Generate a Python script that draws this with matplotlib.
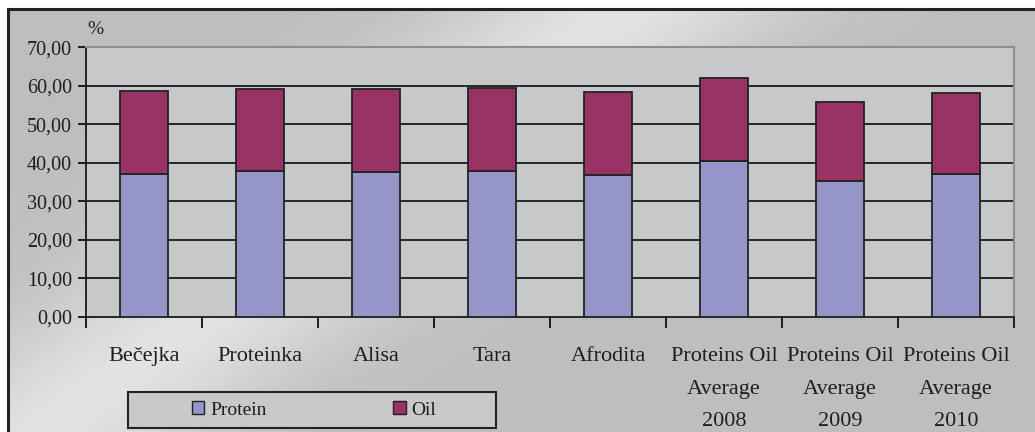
#! /usr/bin/env python
"""Protein and oil content of soybean cultivars, stacked bars."""
import numpy as np
import matplotlib
matplotlib.use("Agg")
import matplotlib.pyplot as plt
from matplotlib.patches import Rectangle, Patch

# values (%)
categories = ["Bečejka", "Proteinka", "Alisa", "Tara", "Afrodita",
              "Proteins Oil\nAverage\n2008", "Proteins Oil\nAverage\n2009",
              "Proteins Oil\nAverage\n2010"]
protein = [37.2, 37.9, 37.6, 37.9, 36.8, 40.4, 35.2, 37.2]
oil = [21.5, 21.3, 21.6, 21.6, 21.5, 21.5, 20.7, 21.0]

yticks = [0, 10, 20, 30, 40, 50, 60, 70]
ytick_labels = ["0,00", "10,00", "20,00", "30,00", "40,00", "50,00", "60,00", "70,00"]

protein_color = "#9595C9"
oil_color = "#993366"

plt.rcParams['font.family'] = ['Liberation Serif', 'DejaVu Serif']

W, H = 1035, 432
fig = plt.figure(figsize=(W / 100, H / 100), dpi=100)
fig.patch.set_facecolor("white")

# chart area background: grey with a light diagonal streak
bg = fig.add_axes([8 / W, 0, 1 - 8 / W, 1 - 9 / H])
yy, xx = np.mgrid[9:H + 1, 8:W + 1]
u = xx + 1.38 * yy
shade = 0.745 + 0.14 * np.exp(-((u - 640) / 170.0) ** 2)
bg.imshow(shade, cmap="gray", vmin=0, vmax=1, aspect="auto",
          extent=[0, 1, 0, 1], interpolation="bilinear")
bg.set_axis_off()
bg.add_patch(Rectangle((0, -0.1), 1.2, 1.1, transform=bg.transAxes, fill=False,
                       edgecolor="#222222", linewidth=2.2, clip_on=False))

ax = fig.add_axes([86 / W, 1 - 316.7 / H, (1014 - 86) / W, (316.7 - 47.3) / H])
ax.set_facecolor("#C7C8CA")

x = np.arange(len(categories))
ax.bar(x, protein, width=0.42, color=protein_color, edgecolor="#222222",
       linewidth=1.3, zorder=3, label="Protein")
ax.bar(x, oil, width=0.42, bottom=protein, color=oil_color, edgecolor="#222222",
       linewidth=1.3, zorder=3, label="Oil")

ax.set_xlim(-0.5, len(categories) - 0.5)
ax.set_ylim(0, 70)

# grid lines
for v in yticks[1:-1]:
    ax.axhline(v, color="#1a1a1a", linewidth=1.3, zorder=1)

ax.set_yticks(yticks)
ax.set_yticklabels(ytick_labels, fontsize=14.5, color="#1e1e1e")
ax.tick_params(axis="y", direction="out", length=6, width=1.2, pad=4)

# tick marks on category boundaries, labels in between
ax.set_xticks(np.arange(len(categories) + 1) - 0.5)
ax.set_xticklabels([])
ax.tick_params(axis="x", which="major", direction="out", length=8, width=1.2)
ax.set_xticks(x, minor=True)
ax.set_xticklabels(categories, minor=True, fontsize=16, color="#1e1e1e",
                   linespacing=1.95)
ax.tick_params(axis="x", which="minor", length=0, pad=22)

for side in ["left", "bottom"]:
    ax.spines[side].set_color("#1a1a1a")
    ax.spines[side].set_linewidth(1.3)
for side in ["top", "right"]:
    ax.spines[side].set_color("#8e8e8e")
    ax.spines[side].set_linewidth(1.5)

fig.text(87 / W, 1 - 30 / H, "%", fontsize=14, color="#1e1e1e",
         ha="left", va="center")

# legend box
box = Rectangle((128 / W, 1 - 428 / H), (496 - 128) / W, 36 / H,
                transform=fig.transFigure, facecolor="#C9C9C9",
                edgecolor="#222222", linewidth=1.5)
fig.patches.append(box)
handles = [Patch(facecolor=protein_color, edgecolor="#222222", linewidth=1.0),
           Patch(facecolor=oil_color, edgecolor="#222222", linewidth=1.0)]
fig.legend(handles, ["Protein", "Oil"], loc="center",
           bbox_to_anchor=(314 / W, 1 - 410 / H), ncol=2, frameon=False,
           fontsize=14, handlelength=0.65, handleheight=0.65,
           handletextpad=0.3, columnspacing=6.5, labelcolor="#1e1e1e")

fig.savefig("out.png", dpi=100)
